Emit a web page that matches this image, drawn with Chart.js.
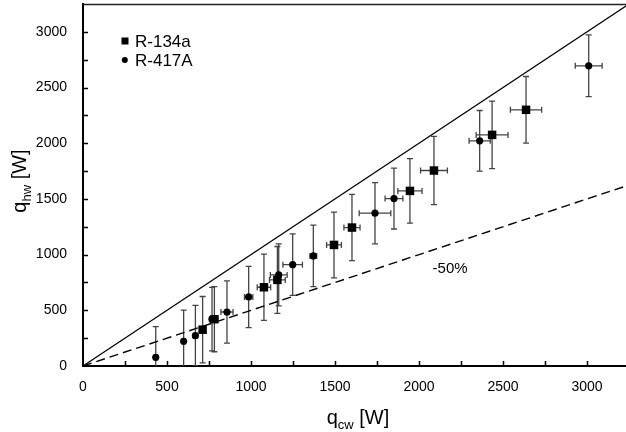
<!DOCTYPE html>
<html>
<head>
<meta charset="utf-8">
<script src="https://cdn.jsdelivr.net/npm/chart.js@4"></script>
<style>
  html, body { margin: 0; padding: 0; background: #fff; }
  #wrap { width: 626px; height: 432px; }
</style>
</head>
<body>
<div id="wrap"><canvas id="chart" width="626" height="432"></canvas></div>
<script>
// data
const r134aX = [712, 782, 1077, 1157, 1494, 1601, 1946, 2089, 2435, 2637];
const r134aY = [326, 420, 707, 773, 1087, 1243, 1572, 1755, 2075, 2300];
const r134aErrX = [15, 20, 40, 47, 44, 48, 72, 80, 95, 93];
const r134aErrY = [298, 292, 298, 300, 295, 297, 290, 306, 303, 299];

const r417aX = [433, 599, 669, 768, 857, 986, 1165, 1248, 1371, 1738, 1851, 2361, 3010];
const r417aY = [78, 222, 272, 420, 485, 620, 818, 910, 988, 1372, 1503, 2022, 2695];
const r417aErrX = [10, 10, 12, 15, 36, 25, 50, 58, 20, 94, 53, 63, 80];
const r417aErrY = [275, 280, 273, 285, 280, 275, 278, 276, 276, 275, 273, 272, 277];

// reference lines: y = x and y = 0.5x
const refX = [0, 3400];
const parityY = [0, 3400];
const minus50Y = [0, 1700];
const minus50Label = { x: 2185, y: 872, text: '-50%' };

// axis ticks (every 250, labelled every 500)
const xTicks = [0, 250, 500, 750, 1000, 1250, 1500, 1750, 2000, 2250, 2500, 2750, 3000];
const yTicks = [0, 250, 500, 750, 1000, 1250, 1500, 1750, 2000, 2250, 2500, 2750, 3000];
const labelStep = 500;
const xMax = 3232;
const yMax = 3250;

const FONT = '"Liberation Sans", Arial, sans-serif';

function toPoints(xs, ys) {
    return xs.map((x, i) => ({ x: x, y: ys[i] }));
}

// error bars drawn under the markers
const errorBars = {
    id: 'errorBars',
    beforeDatasetsDraw(chart) {
        const ctx = chart.ctx;
        const sx = chart.scales.x, sy = chart.scales.y;
        const a = chart.chartArea;
        const sets = [
            [r134aX, r134aY, r134aErrX, r134aErrY],
            [r417aX, r417aY, r417aErrX, r417aErrY]
        ];
        ctx.save();
        ctx.beginPath();
        ctx.rect(a.left, a.top, a.right - a.left, a.bottom - a.top);
        ctx.clip();
        ctx.strokeStyle = '#444';
        ctx.lineWidth = 1.3;
        for (const [xs, ys, ex, ey] of sets) {
            xs.forEach((x, i) => {
                const px = sx.getPixelForValue(x);
                const py = sy.getPixelForValue(ys[i]);
                const top = sy.getPixelForValue(ys[i] + ey[i]);
                const bot = sy.getPixelForValue(ys[i] - ey[i]);
                const lft = sx.getPixelForValue(x - ex[i]);
                const rgt = sx.getPixelForValue(x + ex[i]);
                ctx.beginPath();
                ctx.moveTo(px, top); ctx.lineTo(px, bot);
                ctx.moveTo(px - 3, top); ctx.lineTo(px + 3, top);
                ctx.moveTo(px - 3, bot); ctx.lineTo(px + 3, bot);
                ctx.moveTo(lft, py); ctx.lineTo(rgt, py);
                ctx.moveTo(lft, py - 3); ctx.lineTo(lft, py + 3);
                ctx.moveTo(rgt, py - 3); ctx.lineTo(rgt, py + 3);
                ctx.stroke();
            });
        }
        ctx.restore();
    }
};

function drawSubText(ctx, parts, x, y, rotate) {
    // parts: [text, size, baseline shift]
    ctx.save();
    ctx.translate(x, y);
    if (rotate) ctx.rotate(-Math.PI / 2);
    let total = 0;
    parts.forEach(p => { ctx.font = p[1] + 'px ' + FONT; total += ctx.measureText(p[0]).width; });
    let cx = -total / 2;
    ctx.fillStyle = '#000';
    ctx.textBaseline = 'alphabetic';
    ctx.textAlign = 'left';
    parts.forEach(p => {
        ctx.font = p[1] + 'px ' + FONT;
        ctx.fillText(p[0], cx, p[2]);
        cx += ctx.measureText(p[0]).width;
    });
    ctx.restore();
}

// frame, inner ticks, axis titles, legend and the -50% note
const decorations = {
    id: 'decorations',
    afterDraw(chart) {
        const ctx = chart.ctx;
        const a = chart.chartArea;
        const sx = chart.scales.x, sy = chart.scales.y;
        ctx.save();
        ctx.strokeStyle = '#222';
        ctx.lineWidth = 1.5;
        ctx.beginPath();
        ctx.moveTo(a.left, a.top + 0.5); ctx.lineTo(a.right, a.top + 0.5);
        ctx.stroke();

        ctx.strokeStyle = '#000';
        ctx.lineWidth = 1.5;
        ctx.beginPath();
        sx.ticks.forEach(t => {
            if (t.value <= 0) return;
            const px = Math.round(sx.getPixelForValue(t.value)) + 0.5;
            ctx.moveTo(px, a.bottom); ctx.lineTo(px, a.bottom - 5);
        });
        sy.ticks.forEach(t => {
            if (t.value <= 0) return;
            const py = Math.round(sy.getPixelForValue(t.value)) + 0.5;
            ctx.moveTo(a.left, py); ctx.lineTo(a.left + 5, py);
        });
        ctx.stroke();

        drawSubText(ctx, [['q', 20, 0], ['cw', 13, 5], [' [W]', 20, 0]], 358, 424, false);
        drawSubText(ctx, [['q', 20, 0], ['hw', 13, 5], [' [W]', 20, 0]], 26, 181, true);

        // legend
        ctx.fillStyle = '#000';
        ctx.fillRect(121.5, 37.5, 7, 7);
        ctx.beginPath();
        ctx.arc(124.8, 60, 3, 0, Math.PI * 2);
        ctx.fill();
        ctx.font = '17px ' + FONT;
        ctx.textAlign = 'left';
        ctx.textBaseline = 'alphabetic';
        ctx.fillText(chart.data.datasets[0].label, 135, 47);
        ctx.fillText(chart.data.datasets[1].label, 135, 66);

        ctx.font = '15px ' + FONT;
        ctx.textAlign = 'center';
        ctx.textBaseline = 'middle';
        ctx.fillText(minus50Label.text, sx.getPixelForValue(minus50Label.x), sy.getPixelForValue(minus50Label.y));
        ctx.restore();
    }
};

const ctx = document.getElementById('chart').getContext('2d');
const chart = new Chart(ctx, {
    type: 'scatter',
    data: {
        datasets: [
            {
                label: 'R-134a',
                data: toPoints(r134aX, r134aY),
                pointStyle: 'rect',
                pointRadius: 6,
                backgroundColor: '#000',
                borderColor: '#000',
                borderWidth: 0
            },
            {
                label: 'R-417A',
                data: toPoints(r417aX, r417aY),
                pointStyle: 'circle',
                pointRadius: 3.6,
                backgroundColor: '#000',
                borderColor: '#000',
                borderWidth: 0
            },
            {
                type: 'line',
                label: 'y = x',
                data: toPoints(refX, parityY),
                borderColor: '#000',
                borderWidth: 1.2,
                pointRadius: 0,
                fill: false
            },
            {
                type: 'line',
                label: '-50%',
                data: toPoints(refX, minus50Y),
                borderColor: '#000',
                borderWidth: 1.4,
                borderDash: [9, 5],
                pointRadius: 0,
                fill: false
            }
        ]
    },
    options: {
        responsive: false,
        animation: false,
        layout: { autoPadding: false, padding: { top: 4, right: 0, left: 0, bottom: 0 } },
        plugins: {
            legend: { display: false },
            tooltip: { enabled: false },
            title: { display: false }
        },
        scales: {
            x: {
                type: 'linear',
                min: 0,
                max: xMax,
                afterBuildTicks: s => { s.ticks = xTicks.map(v => ({ value: v })); },
                afterFit: s => { s.height = 66; },
                grid: { drawOnChartArea: false, drawTicks: false },
                border: { color: '#000', width: 2 },
                ticks: {
                    autoSkip: false,
                    maxRotation: 0,
                    padding: 13,
                    color: '#000',
                    font: { family: FONT, size: 14 },
                    callback: v => (v % labelStep === 0 ? v : '')
                }
            },
            y: {
                type: 'linear',
                min: 0,
                max: yMax,
                afterBuildTicks: s => { s.ticks = yTicks.map(v => ({ value: v })); },
                afterFit: s => { s.width = 83; s.paddingTop = 0; },
                grid: { drawOnChartArea: false, drawTicks: false },
                border: { color: '#000', width: 2 },
                ticks: {
                    autoSkip: false,
                    padding: 16,
                    color: '#000',
                    font: { family: FONT, size: 14 },
                    callback: v => (v % labelStep === 0 ? v : '')
                }
            }
        }
    },
    plugins: [errorBars, decorations]
});
</script>
</body>
</html>
